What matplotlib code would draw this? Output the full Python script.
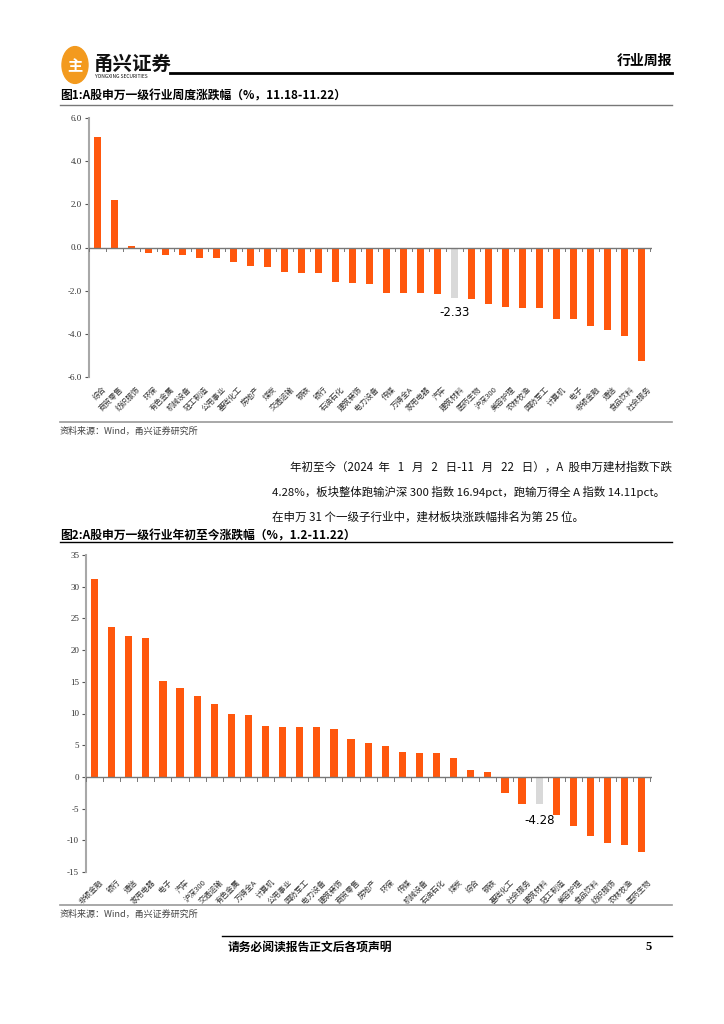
import matplotlib.pyplot as plt
import matplotlib.patches as mpatches
import numpy as np

plt.rcParams["font.family"] = ["Noto Sans CJK SC", "DejaVu Sans"]
plt.rcParams["axes.unicode_minus"] = False

# 图1：周度涨跌幅
week_names = ["综合", "商贸零售", "纺织服饰", "环保", "有色金属", "机械设备", "轻工制造", "公用事业",
              "基础化工", "房地产", "煤炭", "交通运输", "钢铁", "银行", "石油石化", "建筑装饰",
              "电力设备", "传媒", "万得全A", "家用电器", "汽车", "建筑材料", "医药生物", "沪深300",
              "美容护理", "农林牧渔", "国防军工", "计算机", "电子", "非银金融", "通信", "食品饮料", "社会服务"]
week_values = [5.10, 2.19, 0.06, -0.26, -0.33, -0.37, -0.50, -0.50,
               -0.65, -0.85, -0.90, -1.12, -1.16, -1.19, -1.60, -1.64,
               -1.69, -2.09, -2.09, -2.11, -2.16, -2.33, -2.39, -2.62,
               -2.76, -2.79, -2.81, -3.30, -3.33, -3.66, -3.81, -4.11, -5.27]
week_ticks = [6.0, 4.0, 2.0, 0.0, -2.0, -4.0, -6.0]

# 图2：年初至今涨跌幅
ytd_names = ["非银金融", "银行", "通信", "家用电器", "电子", "汽车", "沪深300", "交通运输",
             "有色金属", "万得全A", "计算机", "公用事业", "国防军工", "电力设备", "建筑装饰", "商贸零售",
             "房地产", "环保", "传媒", "机械设备", "石油石化", "煤炭", "综合", "钢铁",
             "基础化工", "社会服务", "建筑材料", "轻工制造", "美容护理", "食品饮料", "纺织服饰", "农林牧渔", "医药生物"]
ytd_values = [31.2, 23.6, 22.3, 21.9, 15.2, 14.0, 12.7, 11.5,
              9.9, 9.84, 8.1, 7.9, 7.84, 7.8, 7.5, 5.9,
              5.3, 4.8, 3.9, 3.7, 3.7, 3.05, 1.05, 0.74,
              -2.5, -4.3, -4.28, -6.0, -7.8, -9.3, -10.5, -10.7, -11.9]
ytd_ticks = [35, 30, 25, 20, 15, 10, 5, 0, -5, -10, -15]

highlight = "建筑材料"
orange = "#FF570D"
gray_bar = "#D9D9D9"

W, H = 724, 1024
fig = plt.figure(figsize=(W / 100, H / 100), dpi=100)


def px(x, y):
    return x / W, 1 - y / H


def hline(x0, x1, y, color="black", lw=1.0):
    fig.add_artist(plt.Line2D([x0 / W, x1 / W], [1 - y / H, 1 - y / H], color=color, lw=lw))


def text(x, y, s, **kw):
    fx, fy = px(x, y)
    fig.text(fx, fy, s, **kw)


def bar_chart(rect, names, values, ticks, ylim, fmt, label_y):
    ax = fig.add_axes(rect)
    x = np.arange(len(names))
    colors = [gray_bar if n == highlight else orange for n in names]
    ax.bar(x, values, width=0.42, color=colors, zorder=2)
    ax.set_xlim(-0.5, len(names) - 0.5 + 0.1)
    ax.set_ylim(*ylim)
    ax.set_yticks(ticks)
    ax.set_yticklabels([fmt.format(t) for t in ticks], family="Liberation Serif", fontsize=6.5, color="#333333")
    ax.tick_params(axis="y", length=3, width=0.8, color="#555555", pad=2)
    ax.axhline(0, color="#777777", lw=1.0, zorder=3)
    for s in ["top", "right", "bottom"]:
        ax.spines[s].set_visible(False)
    ax.spines["left"].set_color("#A8A8A8")
    ax.spines["left"].set_linewidth(1.5)
    ax.set_xticks([])
    # 类别分隔刻度
    for b in np.arange(len(names) + 1) - 0.5:
        ax.plot([b, b], [0, -(ylim[1] - ylim[0]) * 0.012], color="#777777", lw=0.7, zorder=3, clip_on=False)
    for i, n in enumerate(names):
        ax.text(i + 0.3, label_y, n, rotation=45, ha="right", va="top", fontsize=5.5,
                rotation_mode="anchor", color="#333333", clip_on=False)
    i = names.index(highlight)
    v = values[i]
    ax.text(i, v - (ylim[1] - ylim[0]) * 0.03, f"{v:.2f}", ha="center", va="top",
            fontsize=8.5, family="DejaVu Sans", color="black")
    return ax


# 页眉
logo = mpatches.Circle(px(75, 65), 13 / W, transform=fig.transFigure, color="#F39A1E", zorder=5)
fig.add_artist(logo)
text(75, 66, "主", fontsize=11, fontweight="bold", color="white", ha="center", va="center", zorder=6)
text(94, 64, "甬兴证券", fontsize=14, fontweight="bold", color="#111111", va="center")
text(95, 77, "YONGXING SECURITIES", fontsize=3.5, color="#111111", va="center")
hline(170, 672, 73, lw=2.0)
text(672, 61, "行业周报", fontsize=10, fontweight="bold", ha="right", va="center")

# 图1
text(60, 96, "图1:A股申万一级行业周度涨跌幅（%，11.18-11.22）", fontsize=8.5, fontweight="bold", va="center")
hline(60, 672, 105, color="#777777", lw=1.0)
bar_chart([89 / W, 1 - 377 / H, (652 - 89) / W, 259 / H], week_names, week_values,
          week_ticks, (-6, 6), "{:.1f}", -6.4)
hline(60, 672, 422, color="#999999", lw=1.2)
text(60, 431, "资料来源：Wind，甬兴证券研究所", fontsize=6.5, style="italic", color="#444444", va="center")

# 正文
text(672, 467, "年初至今（2024  年   1   月   2   日-11   月   22   日），A  股申万建材指数下跌",
     fontsize=8.3, ha="right", va="center", color="#111111")
text(272, 492, "4.28%，板块整体跑输沪深 300 指数 16.94pct，跑输万得全 A 指数 14.11pct。",
     fontsize=8.2, va="center", color="#111111")
text(272, 517, "在申万 31 个一级子行业中，建材板块涨跌幅排名为第 25 位。",
     fontsize=8.3, va="center", color="#111111")

# 图2
text(60, 536, "图2:A股申万一级行业年初至今涨跌幅（%，1.2-11.22）", fontsize=8.5, fontweight="bold", va="center")
hline(60, 672, 542, color="black", lw=1.0)
bar_chart([86 / W, 1 - 872 / H, (652 - 86) / W, 317 / H], ytd_names, ytd_values,
          ytd_ticks, (-15, 35), "{:.0f}", -16.0)
hline(60, 672, 905, color="#999999", lw=1.2)
text(60, 914, "资料来源：Wind，甬兴证券研究所", fontsize=6.5, style="italic", color="#444444", va="center")

# 页脚
hline(222, 672, 936, lw=1.0)
text(228, 947, "请务必阅读报告正文后各项声明", fontsize=8.5, fontweight="bold", va="center")
text(652, 947, "5", fontsize=9, fontweight="bold", family="Liberation Serif", ha="right", va="center")

fig.savefig("out.png", dpi=100, facecolor="white")
